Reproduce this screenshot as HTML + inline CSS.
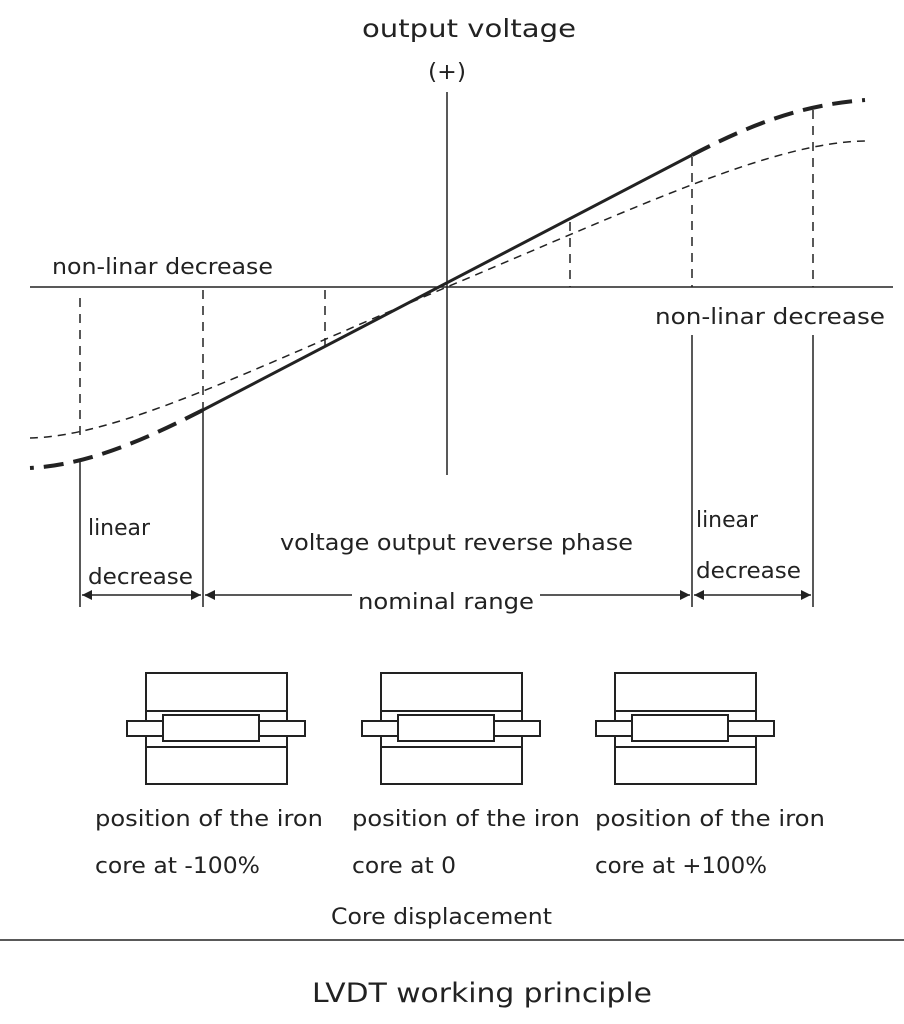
<!DOCTYPE html>
<html><head><style>
body{margin:0;background:#fff;}
svg{display:block;}
text{font-family:"DejaVu Sans","Liberation Sans",sans-serif;fill:#222;}
</style></head><body>
<svg width="904" height="1024" viewBox="0 0 904 1024" xmlns="http://www.w3.org/2000/svg">
<defs>
<marker id="a" viewBox="0 0 10 10" refX="10" refY="5" markerWidth="18" markerHeight="10" orient="auto-start-reverse" markerUnits="userSpaceOnUse"><path d="M0,0 L10,5 L0,10 z" fill="#222"/></marker>
</defs>
<g stroke="#222" fill="none">
<line x1="30" y1="287" x2="893" y2="287" stroke-width="1.5"/>
<line x1="447" y1="92" x2="447" y2="475" stroke-width="1.5"/>
<line x1="203" y1="410" x2="692" y2="155" stroke-width="3"/>
<path d="M203,410 C150,437 90,465 30,468" stroke-width="4" stroke-dasharray="20,10"/>
<path d="M692,155 C750,125 800,105 865,100" stroke-width="4" stroke-dasharray="20,10"/>
<path d="M30,438 C120,436 250,370 447,287 C644,204 774,142 866,141" stroke-width="1.5" stroke-dasharray="8,6"/>
<g stroke-width="1.5" stroke-dasharray="9,7">
<line x1="80" y1="298" x2="80" y2="440"/>
<line x1="203" y1="290" x2="203" y2="410"/>
<line x1="325" y1="290" x2="325" y2="352"/>
<line x1="570" y1="222" x2="570" y2="287"/>
<line x1="692" y1="157" x2="692" y2="287"/>
<line x1="813" y1="110" x2="813" y2="287"/>
</g>
<g stroke-width="1.5">
<line x1="80" y1="462" x2="80" y2="607"/>
<line x1="203" y1="410" x2="203" y2="607"/>
<line x1="692" y1="335" x2="692" y2="607"/>
<line x1="813" y1="335" x2="813" y2="607"/>
<line x1="82" y1="595" x2="201" y2="595" marker-start="url(#a)" marker-end="url(#a)"/>
<line x1="205" y1="595" x2="352" y2="595" marker-start="url(#a)"/>
<line x1="540" y1="595" x2="690" y2="595" marker-end="url(#a)"/>
<line x1="694" y1="595" x2="811" y2="595" marker-start="url(#a)" marker-end="url(#a)"/>
<line x1="0" y1="940" x2="904" y2="940"/>
</g>
<g id="core" stroke-width="2">
<rect x="146" y="673" width="141" height="111"/>
<line x1="146" y1="711" x2="287" y2="711"/>
<line x1="146" y1="747" x2="287" y2="747"/>
<rect x="127" y="721" width="178" height="15" fill="#fff"/>
<rect x="163" y="715" width="96" height="26" fill="#fff"/>
</g>
<use href="#core" x="235"/>
<use href="#core" x="469"/>
</g>
<text x="362" y="37" font-size="25" textLength="214" lengthAdjust="spacingAndGlyphs">output voltage</text>
<text x="428" y="79" font-size="22" textLength="38" lengthAdjust="spacingAndGlyphs">(+)</text>
<text x="52" y="274" font-size="22" textLength="221" lengthAdjust="spacingAndGlyphs">non-linar decrease</text>
<text x="655" y="324" font-size="22" textLength="230" lengthAdjust="spacingAndGlyphs">non-linar decrease</text>
<text x="88" y="535" font-size="22" textLength="62" lengthAdjust="spacingAndGlyphs">linear</text>
<text x="88" y="584" font-size="22" textLength="105" lengthAdjust="spacingAndGlyphs">decrease</text>
<text x="696" y="527" font-size="22" textLength="62" lengthAdjust="spacingAndGlyphs">linear</text>
<text x="696" y="578" font-size="22" textLength="105" lengthAdjust="spacingAndGlyphs">decrease</text>
<text x="280" y="550" font-size="22" textLength="353" lengthAdjust="spacingAndGlyphs">voltage output reverse phase</text>
<text x="358" y="609" font-size="22" textLength="176" lengthAdjust="spacingAndGlyphs">nominal range</text>
<text x="95" y="826" font-size="22" textLength="228" lengthAdjust="spacingAndGlyphs">position of the iron</text>
<text x="95" y="873" font-size="22" textLength="165" lengthAdjust="spacingAndGlyphs">core at -100%</text>
<text x="352" y="826" font-size="22" textLength="228" lengthAdjust="spacingAndGlyphs">position of the iron</text>
<text x="352" y="873" font-size="22" textLength="104" lengthAdjust="spacingAndGlyphs">core at 0</text>
<text x="595" y="826" font-size="22" textLength="230" lengthAdjust="spacingAndGlyphs">position of the iron</text>
<text x="595" y="873" font-size="22" textLength="172" lengthAdjust="spacingAndGlyphs">core at +100%</text>
<text x="331" y="924" font-size="22" textLength="221" lengthAdjust="spacingAndGlyphs">Core displacement</text>
<text x="312" y="1002" font-size="27" textLength="340" lengthAdjust="spacingAndGlyphs">LVDT working principle</text>
</svg>
</body></html>
